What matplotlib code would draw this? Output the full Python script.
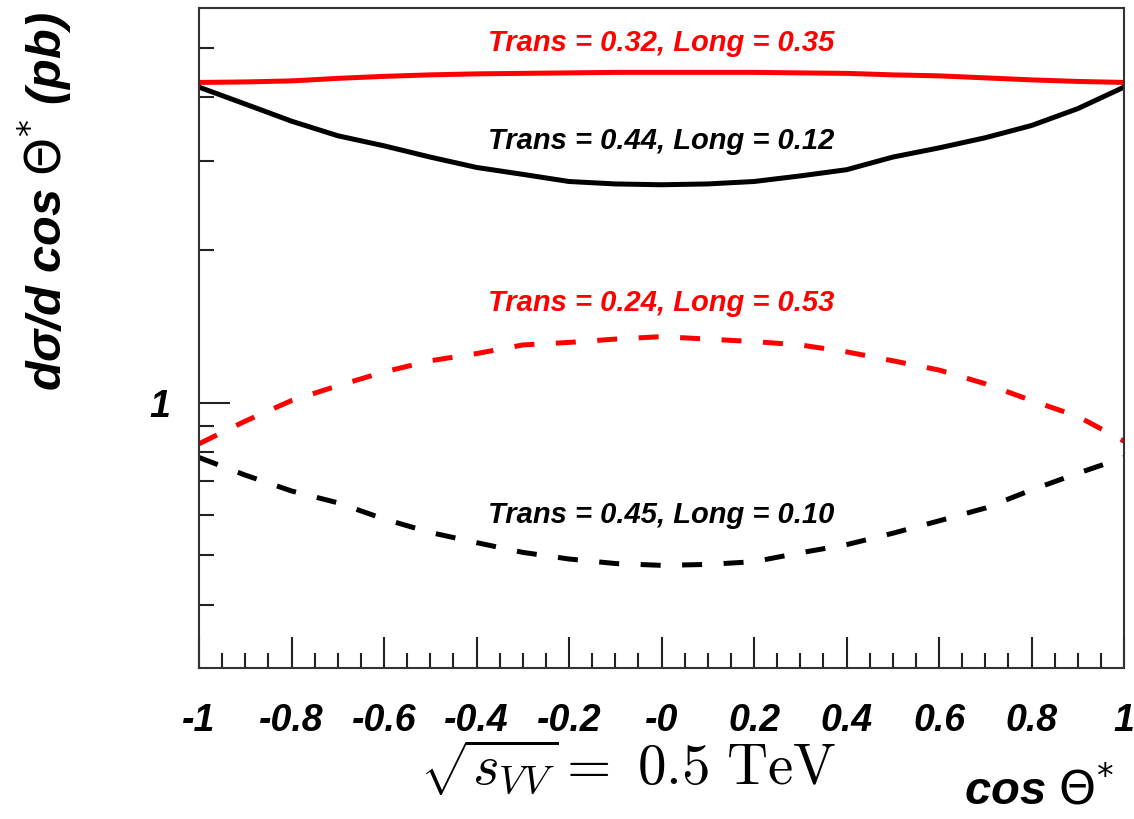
import matplotlib
matplotlib.use("Agg")
import matplotlib.pyplot as plt
from matplotlib.ticker import FixedLocator, NullFormatter

# cos(theta*) grid
cos_theta = [-1.0, -0.9, -0.8, -0.7, -0.6, -0.5, -0.4, -0.3, -0.2, -0.1, 0.0,
             0.1, 0.2, 0.3, 0.4, 0.5, 0.6, 0.7, 0.8, 0.9, 1.0]

# d sigma / d cos(theta*) in pb
red_solid = [4.28, 4.29, 4.31, 4.36, 4.40, 4.43, 4.45, 4.46, 4.47, 4.48, 4.48,
             4.48, 4.48, 4.47, 4.46, 4.43, 4.41, 4.37, 4.33, 4.30, 4.28]
black_solid = [4.19, 3.88, 3.59, 3.36, 3.21, 3.05, 2.91, 2.82, 2.73, 2.70, 2.69,
               2.70, 2.73, 2.80, 2.88, 3.05, 3.18, 3.33, 3.52, 3.80, 4.19]
red_dashed = [0.83, 0.92, 1.01, 1.08, 1.15, 1.21, 1.25, 1.30, 1.315, 1.335, 1.35,
              1.335, 1.32, 1.30, 1.26, 1.21, 1.16, 1.09, 1.01, 0.94, 0.84]
black_dashed = [0.78, 0.72, 0.67, 0.635, 0.59, 0.555, 0.53, 0.507, 0.492, 0.482, 0.478,
                0.48, 0.486, 0.506, 0.525, 0.553, 0.585, 0.62, 0.673, 0.726, 0.78]

labels = ["Trans = 0.32, Long = 0.35", "Trans = 0.44, Long = 0.12",
          "Trans = 0.24, Long = 0.53", "Trans = 0.45, Long = 0.10"]
label_y = [5.11, 3.28, 1.57, 0.60]
label_colors = ["#ff0000", "black", "#ff0000", "black"]

x_ticks = [-1, -0.8, -0.6, -0.4, -0.2, 0, 0.2, 0.4, 0.6, 0.8, 1]
x_tick_labels = ["-1", "-0.8", "-0.6", "-0.4", "-0.2", "-0", "0.2", "0.4", "0.6", "0.8", "1"]

FONT = "Liberation Sans"

fig = plt.figure(figsize=(11.34, 8.19), dpi=100)
ax = fig.add_axes([0.1755, 0.1844, 0.9912 - 0.1755, 0.9902 - 0.1844])

# Curves
ax.plot(cos_theta, red_solid, color="#ff0000", lw=3.6)
ax.plot(cos_theta, black_solid, color="black", lw=3.6)
ax.plot(cos_theta, red_dashed, color="#ff0000", lw=3.6, dashes=(4, 4.3))
ax.plot(cos_theta, black_dashed, color="black", lw=3.6, dashes=(4, 4.3))

# Annotations
for text, y, c in zip(labels, label_y, label_colors):
	ax.text(0.0, y, text, color=c, ha="center", va="center",
			fontsize=21, fontweight="bold", fontstyle="italic", family=FONT)

# Axes
ax.set_yscale("log")
ax.set_xlim(-1, 1)
ax.set_ylim(0.3, 6.0)

ax.xaxis.set_major_locator(FixedLocator(x_ticks))
ax.set_xticklabels(x_tick_labels)
ax.xaxis.set_minor_locator(FixedLocator([i * 0.05 - 1 for i in range(41)]))

ax.yaxis.set_major_locator(FixedLocator([1.0]))
ax.set_yticklabels(["1"])
ax.yaxis.set_minor_locator(FixedLocator([0.4, 0.5, 0.6, 0.7, 0.8, 0.9, 2, 3, 4, 5]))
ax.yaxis.set_minor_formatter(NullFormatter())

ax.tick_params(which="both", direction="in", width=1.5, color="#222222",
			   top=False, right=False)
ax.tick_params(which="major", length=22)
ax.tick_params(which="minor", length=11)
ax.tick_params(axis="x", which="major", pad=25)
ax.tick_params(axis="y", which="major", pad=21)

for lbl in ax.get_xticklabels() + ax.get_yticklabels():
	lbl.set_family(FONT)
	lbl.set_fontweight("bold")
	lbl.set_fontstyle("italic")
	lbl.set_fontsize(27)

for sp in ax.spines.values():
	sp.set_linewidth(1.5)
	sp.set_color("#333333")

# Axis titles (ROOT style placement)
fig.text(45 / 1134, 1 - 12 / 819, r"dσ/d cos $\Theta^{*}$ (pb)", rotation=90,
		 ha="center", va="top", fontsize=35, fontweight="bold", fontstyle="italic",
		 family=FONT, math_fontfamily="dejavusans")
fig.text(1114 / 1134, 5 / 819, r"cos $\Theta^{*}$", ha="right", va="bottom",
		 fontsize=34, fontweight="bold", fontstyle="italic",
		 family=FONT, math_fontfamily="dejavusans")

# Energy label
fig.text(628 / 1134, 1 - 768 / 819, r"$\sqrt{s_{VV}} =\ 0.5\ \mathrm{TeV}$",
		 ha="center", va="center", fontsize=41, math_fontfamily="cm")

fig.savefig("out.png", dpi=100)
